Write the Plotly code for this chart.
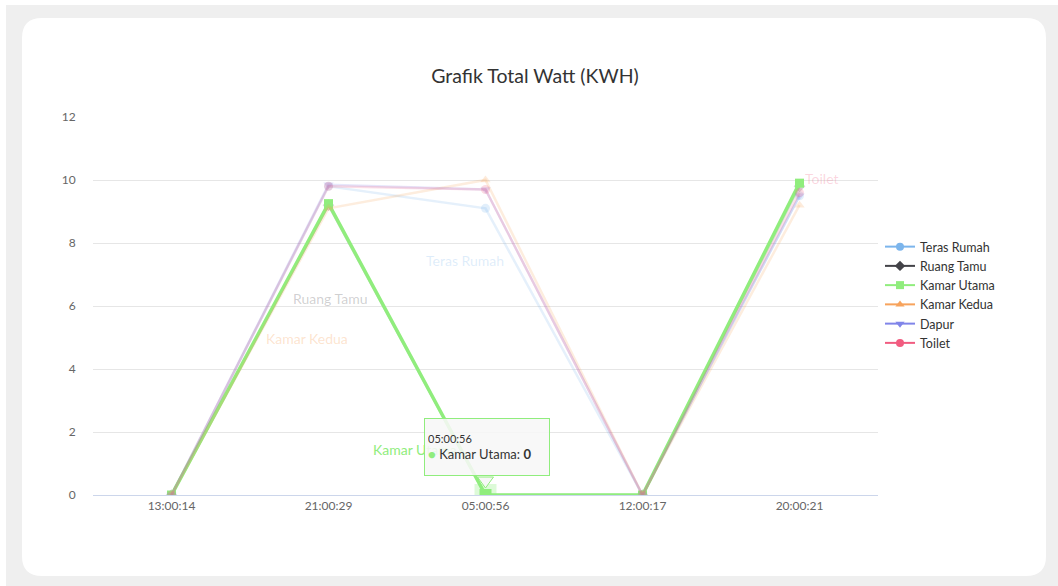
import plotly.graph_objects as go

categories = ["13:00:14", "21:00:29", "05:00:56", "12:00:17", "20:00:21"]
teras_rumah = [0, 9.8, 9.1, 0, 9.5]
ruang_tamu = [0, 9.2, 0, 0, 9.8]
kamar_utama = [0, 9.25, 0, 0, 9.9]
kamar_kedua = [0, 9.1, 10.0, 0, 9.2]
dapur = [0, 9.85, 9.7, 0, 9.5]
toilet = [0, 9.8, 9.7, 0, 9.6]
y_ticks = [0, 2, 4, 6, 8, 10, 12]

series = [
    ("Teras Rumah", teras_rumah, (124, 181, 236), "circle"),
    ("Ruang Tamu", ruang_tamu, (67, 67, 72), "diamond"),
    ("Kamar Utama", kamar_utama, (144, 237, 125), "square"),
    ("Kamar Kedua", kamar_kedua, (247, 163, 92), "triangle-up"),
    ("Dapur", dapur, (128, 133, 233), "triangle-down"),
    ("Toilet", toilet, (241, 92, 128), "circle"),
]

FONT = "Lato, 'Open Sans', sans-serif"
xs = list(range(len(categories)))

fig = go.Figure()

def rgba(c, a):
    return f"rgba({c[0]},{c[1]},{c[2]},{a})"

for name, vals, col, sym in series:
    if name == "Kamar Utama":
        fig.add_trace(go.Scatter(
            x=xs, y=vals, mode="lines+markers", showlegend=False, hoverinfo="skip",
            line=dict(color=rgba(col, 1), width=3.5),
            marker=dict(symbol=sym, size=9, color=rgba(col, 1)),
        ))
        fig.add_trace(go.Scatter(
            x=[xs[2]], y=[vals[2]], mode="markers", showlegend=False, hoverinfo="skip",
            marker=dict(symbol=sym, size=22, color=rgba(col, 0.3)),
        ))
        fig.add_trace(go.Scatter(
            x=[xs[2]], y=[vals[2]], mode="markers", showlegend=False, hoverinfo="skip",
            marker=dict(symbol=sym, size=12, color=rgba(col, 1)),
        ))
    else:
        fig.add_trace(go.Scatter(
            x=xs, y=vals, mode="lines+markers", showlegend=False, hoverinfo="skip",
            line=dict(color=rgba(col, 0.2), width=2.5),
            marker=dict(symbol=sym, size=9, color=rgba(col, 0.22)),
        ))

for name, vals, col, sym in series:
    fig.add_trace(go.Scatter(
        x=[None], y=[None], mode="lines+markers", name=name,
        line=dict(color=rgba(col, 1), width=2),
        marker=dict(symbol=sym, size=8, color=rgba(col, 1)),
    ))

L, R, T, B = 93, 180, 117, 91
W, H = 1058, 586
pw, ph = W - L - R, H - T - B

def px(xp):
    return (xp - L) / pw

def py(yp):
    return (H - B - yp) / ph

fig.add_shape(type="rect", xref="paper", yref="paper", x0=px(6), x1=px(1058), y0=py(586), y1=py(5),
              fillcolor="#efefef", line=dict(width=0), layer="below")

cx0, cx1, cy0, cy1, r = 22, 1046, 18, 576, 20
rx, ry = r / pw, r / ph
X0, X1, Y0, Y1 = px(cx0), px(cx1), py(cy1), py(cy0)
path = (f"M {X0+rx},{Y1} L {X1-rx},{Y1} Q {X1},{Y1} {X1},{Y1-ry} "
        f"L {X1},{Y0+ry} Q {X1},{Y0} {X1-rx},{Y0} L {X0+rx},{Y0} "
        f"Q {X0},{Y0} {X0},{Y0+ry} L {X0},{Y1-ry} Q {X0},{Y1} {X0+rx},{Y1} Z")
fig.add_shape(type="path", xref="paper", yref="paper", path=path,
              fillcolor="white", line=dict(width=0), layer="below")

labels = [
    ("Teras Rumah", 1.87, 7.46, rgba((124, 181, 236), 0.25), "center"),
    ("Ruang Tamu", 1.01, 6.25, rgba((67, 67, 72), 0.25), "center"),
    ("Kamar Kedua", 0.86, 4.98, rgba((247, 163, 92), 0.3), "center"),
    ("Kamar Utama", 1.27, 1.43, rgba((144, 237, 125), 1), "left"),
    ("Toilet", 4.02, 10.06, rgba((241, 92, 128), 0.25), "left"),
]
for t, x, y, c, anc in labels:
    fig.add_annotation(x=x, y=y, xref="x", yref="y", text=t, showarrow=False,
                       xanchor=anc, font=dict(family=FONT, size=14, color=c))

fig.add_shape(type="path", xref="x", yref="y", xsizemode="pixel", ysizemode="pixel",
              xanchor=2, yanchor=0,
              path="M -8,18 L 0,7 L 8,18 Z",
              fillcolor="rgba(247,247,247,0.95)", line=dict(color="#90ed7d", width=1), layer="above")

fig.add_annotation(
    x=2, y=0, xref="x", yref="y", xshift=1, yshift=48, showarrow=False,
    text=("<span style='font-size:11px'>05:00:56</span><br>"
          "<span style='color:#90ed7d'>●</span> Kamar Utama: <b>0</b>"),
    align="left", xanchor="center", yanchor="middle",
    width=118, height=50,
    bgcolor="rgba(247,247,247,0.88)", bordercolor="#90ed7d", borderwidth=1, borderpad=3,
    font=dict(family=FONT, size=13, color="#333333"),
)

fig.update_layout(
    width=W, height=H,
    margin=dict(l=L, r=R, t=T, b=B),
    paper_bgcolor="white", plot_bgcolor="white",
    title=dict(text="Grafik Total Watt (KWH)", x=535 / W, xanchor="center", xref="container",
               y=1 - 76 / H, yanchor="middle", yref="container",
               font=dict(family=FONT, size=19.5, color="#333333")),
    font=dict(family=FONT, size=12, color="#666666"),
    showlegend=True,
    legend=dict(x=px(880), xanchor="left", y=py(295), yanchor="middle",
                font=dict(family=FONT, size=12.5, color="#333333"),
                bgcolor="rgba(0,0,0,0)", itemwidth=30, tracegroupgap=0),
    xaxis=dict(range=[-0.5, 4.5], tickmode="array", tickvals=xs, ticktext=categories,
               showgrid=False, zeroline=False, showline=True, linecolor="#ccd6eb", linewidth=1,
               ticks="", tickfont=dict(family=FONT, size=12, color="#666666"), fixedrange=True),
    yaxis=dict(range=[0, 12], tickmode="array", tickvals=y_ticks, showgrid=True,
               gridcolor="#e6e6e6", gridwidth=1, zeroline=False, showline=False,
               ticks="outside", ticklen=14, tickcolor="rgba(0,0,0,0)",
               tickfont=dict(family=FONT, size=12, color="#666666"), fixedrange=True),
)

fig.write_html("out.html", config={"displayModeBar": False},
               post_script="document.body.style.margin='0';document.body.style.overflow='hidden';")
